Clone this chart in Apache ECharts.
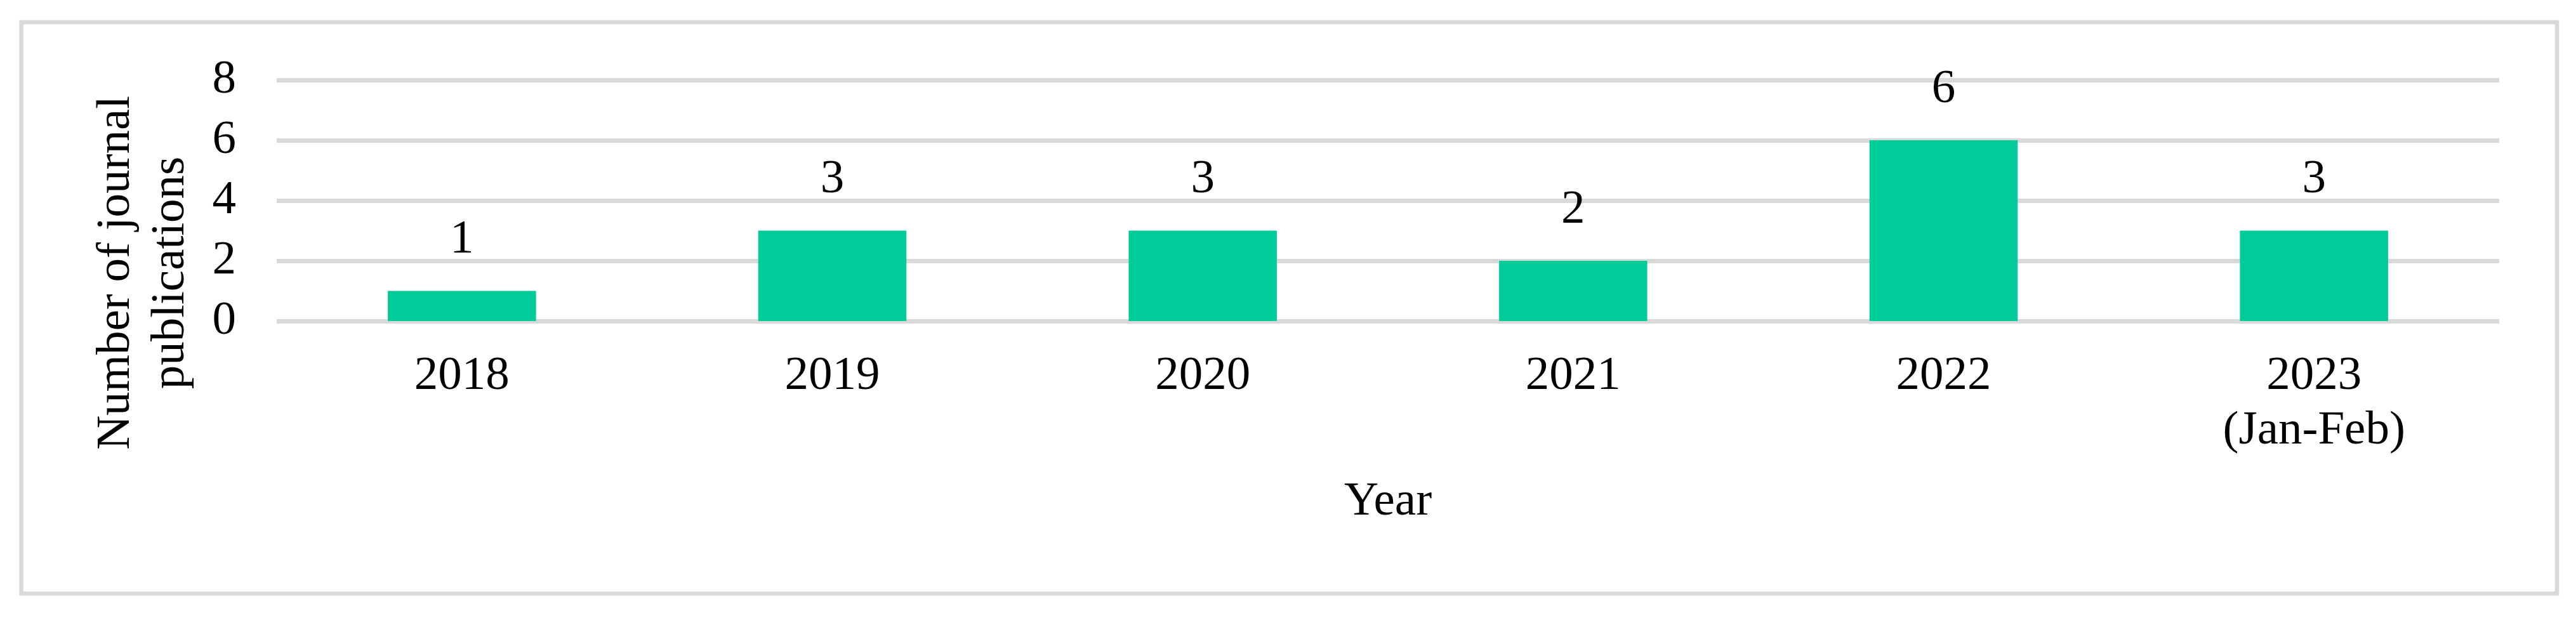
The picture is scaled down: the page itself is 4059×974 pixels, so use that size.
<!DOCTYPE html>
<html>
<head>
<meta charset="utf-8">
<title>Journal publications per year</title>
<script src="https://cdn.jsdelivr.net/npm/echarts@6/dist/echarts.min.js"></script>
<style>
  html, body { margin: 0; padding: 0; background: #fff; }
  #chart { width: 4059px; height: 974px; }
</style>
</head>
<body>
<div id="chart"></div>
<script>
// data
var years = ['2018', '2019', '2020', '2021', '2022', '2023\n(Jan-Feb)']
var publications = [1, 3, 3, 2, 6, 3]
var yTicks = [0, 2, 4, 6, 8]

var font = "'Liberation Serif', 'Times New Roman', serif"
var gridColor = '#d9d9d9'

var chart = echarts.init(document.getElementById('chart'))

chart.setOption({
  backgroundColor: '#fff',
  animation: false,
  textStyle: { fontFamily: font },
  // outer frame of the chart area
  graphic: [{
    type: 'rect',
    shape: { x: 33.5, y: 35, width: 3995.5, height: 900.5 },
    style: { fill: 'none', stroke: gridColor, lineWidth: 6.5 },
    z: -1
  }],
  grid: {
    left: 436,
    right: 121,
    top: 126,
    bottom: 468,
    outerBoundsMode: 'none'
  },
  xAxis: {
    type: 'category',
    data: years,
    name: 'Year',
    nameLocation: 'middle',
    nameGap: 242,
    nameMoveOverlap: false,
    nameTextStyle: { color: '#000', fontSize: 75, lineHeight: 86, fontFamily: font },
    axisLine: { show: false },
    axisTick: { show: false },
    axisLabel: {
      color: '#000',
      fontSize: 75,
      lineHeight: 86,
      margin: 44,
      fontFamily: font
    }
  },
  yAxis: {
    type: 'value',
    min: yTicks[0],
    max: yTicks[yTicks.length - 1],
    interval: 2,
    name: 'Number of journal\npublications',
    nameLocation: 'middle',
    nameRotate: 90,
    nameGap: 124,
    nameMoveOverlap: false,
    nameTextStyle: {
      color: '#000',
      fontSize: 75,
      lineHeight: 86,
      fontFamily: font,
      padding: [0, 228, 0, 0] // pushes the title down like in the original
    },
    axisLine: { show: false },
    axisTick: { show: false },
    axisLabel: {
      color: '#000',
      fontSize: 75,
      margin: 64,
      fontFamily: font,
      showMinLabel: true,
      showMaxLabel: true,
      hideOverlap: false
    },
    splitLine: { lineStyle: { color: gridColor, width: 7 } }
  },
  series: [{
    name: 'Publications',
    type: 'bar',
    data: publications,
    barCategoryGap: '60%',
    itemStyle: { color: '#00cc99' },
    label: {
      show: true,
      position: 'top',
      distance: 37,
      color: '#000',
      fontSize: 75,
      lineHeight: 86,
      fontFamily: font
    }
  }]
})
</script>
</body>
</html>
